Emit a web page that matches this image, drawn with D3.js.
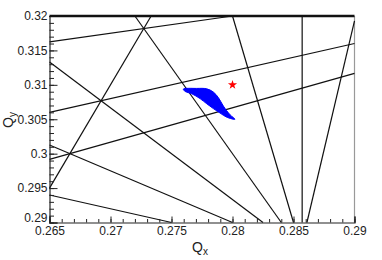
<!DOCTYPE html>
<html>
<head>
<meta charset="utf-8">
<script src="https://cdn.jsdelivr.net/npm/d3@7"></script>
<style>
    body { margin: 0; background: #fff; }
    text { font-family: "Liberation Sans", Arial, sans-serif; fill: #222; }
</style>
</head>
<body>
<div id="chart"></div>
<script>
const svgWidth = 382;
const svgHeight = 260;

const margin = { top: 16, right: 27.5, bottom: 37.5, left: 49.5 };

// tick labels
const xTickValues = [0.265, 0.27, 0.275, 0.28, 0.285, 0.29];
const xTickLabels = ["0.265", "0.27", "0.275", "0.28", "0.285", "0.29"];
const yTickValues = [0.29, 0.295, 0.3, 0.305, 0.31, 0.315, 0.32];
const yTickLabels = ["0.29", "0.295", "0.3", "0.305", "0.31", "0.315", "0.32"];

// resonance lines, endpoints in tune space
const lineStartQx = [0.265, 0.28, 0.28571, 0.2861, 0.265, 0.265, 0.265, 0.265, 0.265, 0.272, 0.265];
const lineStartQy = [0.31625, 0.32, 0.29, 0.29, 0.306, 0.29917, 0.31333, 0.30125, 0.294, 0.32, 0.295];
const lineEndQx = [0.28, 0.285, 0.28571, 0.29, 0.29, 0.29, 0.2825, 0.28, 0.275, 0.284, 0.27333];
const lineEndQy = [0.32, 0.29, 0.32, 0.3193, 0.316, 0.31167, 0.29, 0.29, 0.29, 0.29, 0.32];

// tune footprint outline
const footprintQx = [0.27597, 0.27707, 0.27789, 0.27843, 0.27884, 0.27925, 0.2798, 0.2802,
    0.27953, 0.27898, 0.27843, 0.27789, 0.27734, 0.27666, 0.27611];
const footprintQy = [0.30938, 0.30948, 0.30942, 0.30895, 0.30815, 0.30692, 0.30565, 0.305,
    0.30530, 0.30590, 0.30655, 0.30725, 0.30800, 0.30870, 0.30905];

// working point
const pointQx = [0.28];
const pointQy = [0.31];

const chartWidth = svgWidth - margin.left - margin.right;
const chartHeight = svgHeight - margin.top - margin.bottom;

const svg = d3.select("#chart")
    .append("svg")
    .attr("width", svgWidth)
    .attr("height", svgHeight);

const chartGroup = svg.append("g")
    .attr("transform", `translate(${margin.left}, ${margin.top})`);

const xScale = d3.scaleLinear()
    .domain([0.265, 0.29])
    .range([0, chartWidth]);

const yScale = d3.scaleLinear()
    .domain([0.29, 0.32])
    .range([chartHeight, 0]);

// right border (grey)
chartGroup.append("line")
    .attr("x1", chartWidth).attr("x2", chartWidth)
    .attr("y1", 0).attr("y2", chartHeight)
    .attr("stroke", "#999")
    .attr("stroke-width", 1.2);

// resonance lines
const lines = lineStartQx.map((d, i) => ({
    x1: d, y1: lineStartQy[i], x2: lineEndQx[i], y2: lineEndQy[i]
}));

chartGroup.append("g")
    .selectAll("line")
    .data(lines)
    .enter()
    .append("line")
    .attr("x1", d => xScale(d.x1))
    .attr("y1", d => yScale(d.y1))
    .attr("x2", d => xScale(d.x2))
    .attr("y2", d => yScale(d.y2))
    .attr("stroke", "#111")
    .attr("stroke-width", 1.2);

// footprint
const footprint = footprintQx.map((d, i) => [xScale(d), yScale(footprintQy[i])]);
chartGroup.append("path")
    .attr("d", d3.line().curve(d3.curveCatmullRomClosed.alpha(0.5))(footprint))
    .attr("fill", "#0000ff")
    .attr("stroke", "#0000ff")
    .attr("stroke-width", 1);

// working point star
chartGroup.selectAll(".star")
    .data(pointQx)
    .enter()
    .append("path")
    .attr("class", "star")
    .attr("transform", (d, i) => `translate(${xScale(d)}, ${yScale(pointQy[i])})`)
    .attr("d", d3.symbol().type(d3.symbolStar).size(26))
    .attr("fill", "#ff0000");

// axes
const xMinor = d3.range(265, 291).map(v => v / 1000);
const yMinor = d3.range(290, 321).map(v => v / 1000);

const xAxis = chartGroup.append("g")
    .attr("transform", `translate(0, ${chartHeight})`)
    .call(d3.axisBottom(xScale)
        .tickValues(xTickValues)
        .tickSize(-6)
        .tickPadding(4)
        .tickFormat((d, i) => xTickLabels[i]));

const xAxisMinor = chartGroup.append("g")
    .attr("transform", `translate(0, ${chartHeight})`)
    .call(d3.axisBottom(xScale)
        .tickValues(xMinor)
        .tickSize(-3.5)
        .tickFormat(""));

const yAxis = chartGroup.append("g")
    .call(d3.axisLeft(yScale)
        .tickValues(yTickValues)
        .tickSize(-8)
        .tickPadding(2)
        .tickFormat((d, i) => yTickLabels[i]));

const yAxisMinor = chartGroup.append("g")
    .call(d3.axisLeft(yScale)
        .tickValues(yMinor)
        .tickSize(-4.5)
        .tickFormat(""));

[xAxis, yAxis, xAxisMinor, yAxisMinor].forEach(a => {
    a.selectAll("path").attr("stroke", "#222").attr("stroke-width", 1.2);
    a.selectAll("line").attr("stroke", "#222").attr("stroke-width", 1);
    a.selectAll("text")
        .attr("font-size", "12px")
        .attr("font-family", "Liberation Sans, Arial, sans-serif")
        .attr("fill", "#222");
});
xAxisMinor.select(".domain").remove();
yAxisMinor.select(".domain").remove();

// lowest y label sits just above the x labels
yAxis.selectAll(".tick text").filter(d => d === 0.29).attr("dy", "-0.05em");

// thick top border
chartGroup.append("line")
    .attr("x1", 0).attr("x2", chartWidth)
    .attr("y1", 0).attr("y2", 0)
    .attr("stroke", "#111")
    .attr("stroke-width", 2.4);

// axis titles
const xAxisText = svg.append("text")
    .attr("x", 200)
    .attr("y", 251.5)
    .attr("font-size", "14px")
    .style("text-anchor", "middle");
xAxisText.append("tspan").text("Q");
xAxisText.append("tspan").attr("font-size", "10px").attr("dy", 3).text("x");

const yAxisText = svg.append("text")
    .attr("transform", "translate(13, 120) rotate(-90)")
    .attr("font-size", "14px")
    .style("text-anchor", "middle");
yAxisText.append("tspan").text("Q");
yAxisText.append("tspan").attr("font-size", "10px").attr("dy", 3).text("y");
</script>
</body>
</html>
